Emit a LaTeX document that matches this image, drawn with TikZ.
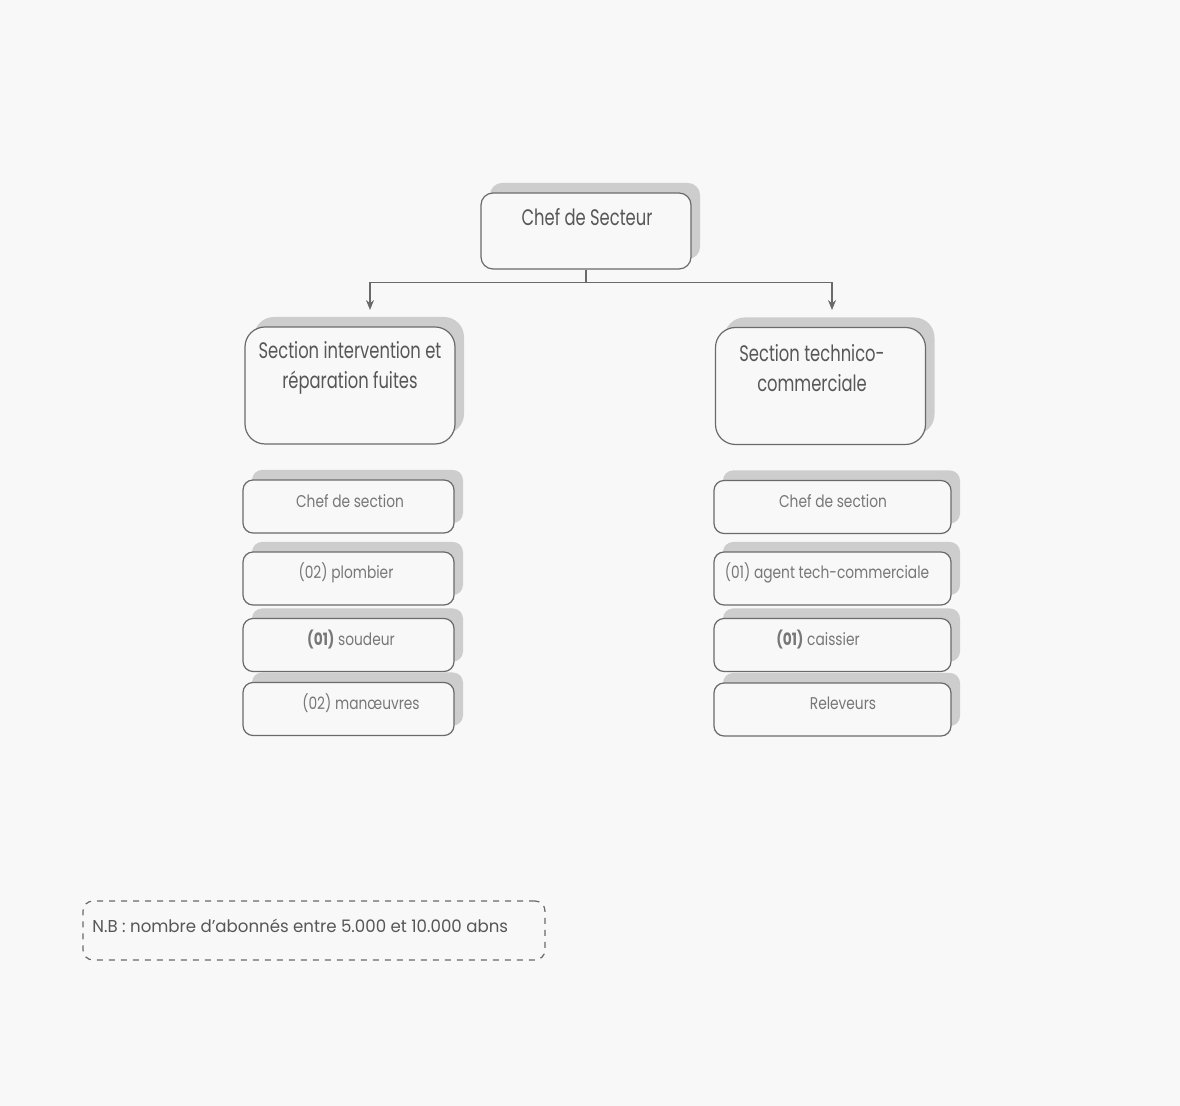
\documentclass[tikz,border=0pt]{standalone}
\usepackage{graphicx}
\usepackage{fontspec}
\setmainfont{Poppins}
\usetikzlibrary{arrows.meta,shadows}
\definecolor{paper}{HTML}{F8F8F8}
\definecolor{ink}{HTML}{575757}
\definecolor{softink}{HTML}{777777}
\definecolor{edge}{HTML}{6A6A6A}
\definecolor{shade}{HTML}{CDCDCD}
% narrow lettering: full height, compressed width
\newcommand{\headsq}[1]{\scalebox{0.73}[1]{#1}}
\newcommand{\itemsq}[1]{\scalebox{0.81}[1]{#1}}
\tikzset{
  card/.style={draw=edge, line width=0.6pt, fill=paper, inner sep=0pt,
    general shadow={fill=shade, shadow xshift=4.5pt, shadow yshift=5pt}},
  topcard/.style={card, rounded corners=6pt, minimum width=105pt, minimum height=38pt},
  seccard/.style={card, rounded corners=10pt, minimum width=105pt, minimum height=58.5pt},
  itemL/.style={card, rounded corners=5pt, minimum width=105.5pt, minimum height=26.5pt},
  itemR/.style={card, rounded corners=5pt, minimum width=118.5pt, minimum height=26.5pt},
  headtxt/.style={text=ink, font=\fontsize{11.2}{15}\selectfont, align=center, inner sep=0pt},
  itemtxt/.style={text=softink, font=\fontsize{8.5}{10}\selectfont, inner sep=0pt},
  conn/.style={draw=edge, line width=0.6pt, -{Stealth[length=5pt,width=4pt]}},
  notebox/.style={draw=edge, dashed, line width=0.6pt, rounded corners=5pt,
    minimum width=231pt, minimum height=29.5pt, inner sep=0pt}
}
\begin{document}
\begin{tikzpicture}[x=0.5pt,y=-0.5pt]
\fill[paper] (0,0) rectangle (1180,1106);
\useasboundingbox (0,0) rectangle (1180,1106);

% top of the hierarchy
\node[topcard] (chef) at (586,231) {};
\node[headtxt] (chefT) at (587,217) {\headsq{Chef de Secteur}};

% the two sections
\node[seccard] (secL) at (350,385.5) {};
\node[headtxt] (secLT) at (350,368) {\headsq{Section intervention et}\\\headsq{réparation fuites}};
\node[seccard] (secR) at (820.5,386) {};
\node[headtxt] (secRT) at (812,368) {\headsq{Section technico-}\\\headsq{commerciale}};

% links from the head to the sections
\coordinate (aL) at (370,310);
\coordinate (aR) at (832,310);
\draw[conn] (chef.south) -- ++(0,13) coordinate (j) -| (aL);
\draw[conn] (j) -| (aR);

% staff of the left section
\node[itemL] (l1) at (348.5,506.5) {};
\node[itemtxt] (l1T) at (350,501) {\itemsq{Chef de section}};
\node[itemL] (l2) at (348.5,578.5) {};
\node[itemtxt] (l2T) at (346,573) {\itemsq{(02) plombier}};
\node[itemL] (l3) at (348.5,645) {};
\node[itemtxt] (l3T) at (351,640) {\itemsq{\textbf{(01)} soudeur}};
\node[itemL] (l4) at (348.5,709) {};
\node[itemtxt] (l4T) at (361,703) {\itemsq{(02) manœuvres}};

% staff of the right section
\node[itemR] (r1) at (832.5,507) {};
\node[itemtxt] (r1T) at (833,501) {\itemsq{Chef de section}};
\node[itemR] (r2) at (832.5,578.5) {};
\node[itemtxt] (r2T) at (827,573) {\itemsq{(01) agent tech-commerciale}};
\node[itemR] (r3) at (832.5,645) {};
\node[itemtxt] (r3T) at (818,640) {\itemsq{\textbf{(01)} caissier}};
\node[itemR] (r4) at (832.5,709.5) {};
\node[itemtxt] (r4T) at (843,703) {\itemsq{Releveurs}};

% footnote
\node[notebox] (nb) at (314,930.5) {};
\node[text=ink, font=\fontsize{8.6}{10}\selectfont, anchor=west, inner sep=0pt] (nbT) at (92,926)
  {\scalebox{0.965}[1]{N.B : nombre d'abonnés entre 5.000 et 10.000 abns}};
\end{tikzpicture}
\end{document}
